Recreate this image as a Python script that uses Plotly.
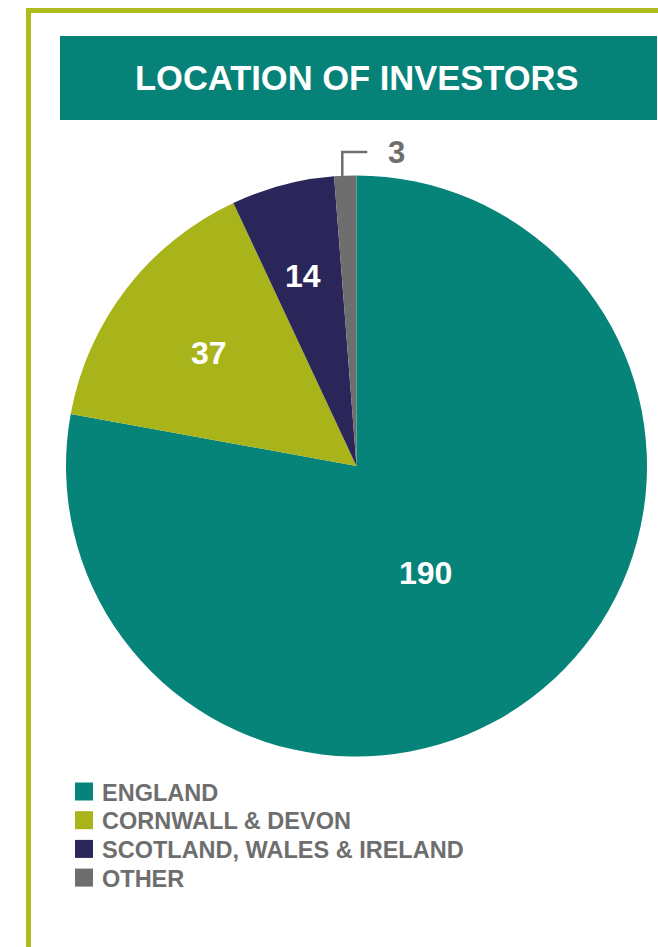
import math
import plotly.graph_objects as go

W, H = 658, 947

# ---- data ----
categories = ["ENGLAND", "CORNWALL & DEVON", "SCOTLAND, WALES & IRELAND", "OTHER"]
values = [190, 37, 14, 3]
colors = ["#06847A", "#A8B419", "#2A265A", "#6E6E6E"]
title_text = "LOCATION OF INVESTORS"

FONT = "Liberation Sans, Arial, Helvetica, sans-serif"
GRAY = "#6E6E6E"
OLIVE = "#AEBD1E"
TEAL = "#068279"


def px(x):
    return x / W


def py(y):
    return 1 - y / H


# pie geometry (pixels)
cx, cy, R = 356.5, 466.0, 290.5

fig = go.Figure()
fig.add_trace(go.Pie(
    labels=categories,
    values=values,
    marker=dict(colors=colors, line=dict(width=0)),
    sort=False,
    direction="clockwise",
    rotation=0,
    textinfo="none",
    showlegend=False,
    hoverinfo="label+value",
    domain=dict(x=[px(cx - R), px(cx + R)], y=[py(cy + R), py(cy - R)]),
))

shapes = []
annotations = []

# frame lines
shapes.append(dict(type="line", xref="paper", yref="paper",
                   x0=px(28.5), x1=px(28.5), y0=py(8), y1=py(H + 5),
                   line=dict(color=OLIVE, width=5)))
shapes.append(dict(type="line", xref="paper", yref="paper",
                   x0=px(26), x1=px(W + 5), y0=py(10.5), y1=py(10.5),
                   line=dict(color=OLIVE, width=5)))

# title box
shapes.append(dict(type="rect", xref="paper", yref="paper",
                   x0=px(60), x1=px(657), y0=py(120), y1=py(36),
                   fillcolor=TEAL, line=dict(width=0)))
annotations.append(dict(text=title_text, xref="paper", yref="paper",
                        x=px(356), y=py(78), showarrow=False,
                        xanchor="center", yanchor="middle",
                        font=dict(family=FONT, size=34.5, color="white", weight="bold")))

# slice labels, placed from slice mid-angles computed from the data
total = sum(values)
label_r = [0.44, 0.64, 0.68]      # radius fraction for label placement
label_da = [7, 0, -1]             # small angular nudge (degrees)
cum = 0.0
mids = []
for v in values:
    mids.append((cum + v / 2) / total * 360)
    cum += v
for i in range(3):
    a = math.radians(mids[i] + label_da[i])
    x = cx + label_r[i] * R * math.sin(a)
    y = cy - label_r[i] * R * math.cos(a)
    annotations.append(dict(text=str(values[i]), xref="paper", yref="paper",
                            x=px(x), y=py(y), showarrow=False,
                            xanchor="center", yanchor="middle",
                            font=dict(family=FONT, size=32, color="white", weight="bold")))

# outside label for the smallest slice, with leader line
a = math.radians(mids[3])
lx = cx + R * math.sin(a) - 3
ly_top = cy - R * math.cos(a)
shapes.append(dict(type="path", xref="paper", yref="paper",
                   path=f"M {px(lx)} {py(ly_top + 1)} L {px(lx)} {py(152)} L {px(lx + 25)} {py(152)}",
                   line=dict(color=GRAY, width=2.5)))
annotations.append(dict(text=str(values[3]), xref="paper", yref="paper",
                        x=px(386), y=py(153), showarrow=False,
                        xanchor="left", yanchor="middle",
                        font=dict(family=FONT, size=31, color=GRAY, weight="bold")))

# custom legend
leg_y0, leg_dy = 791.5, 28.7
for i, (cat, col) in enumerate(zip(categories, colors)):
    yc = leg_y0 + i * leg_dy
    shapes.append(dict(type="rect", xref="paper", yref="paper",
                       x0=px(75), x1=px(93), y0=py(yc + 9), y1=py(yc - 9),
                       fillcolor=col, line=dict(width=0)))
    annotations.append(dict(text=cat, xref="paper", yref="paper",
                            x=px(100), y=py(yc + 1), showarrow=False,
                            xanchor="left", yanchor="middle",
                            font=dict(family=FONT, size=23.5, color=GRAY, weight="bold")))

fig.update_layout(
    width=W, height=H,
    margin=dict(l=0, r=0, t=0, b=0),
    paper_bgcolor="white",
    plot_bgcolor="white",
    shapes=shapes,
    annotations=annotations,
)

fig.write_html("out.html")
